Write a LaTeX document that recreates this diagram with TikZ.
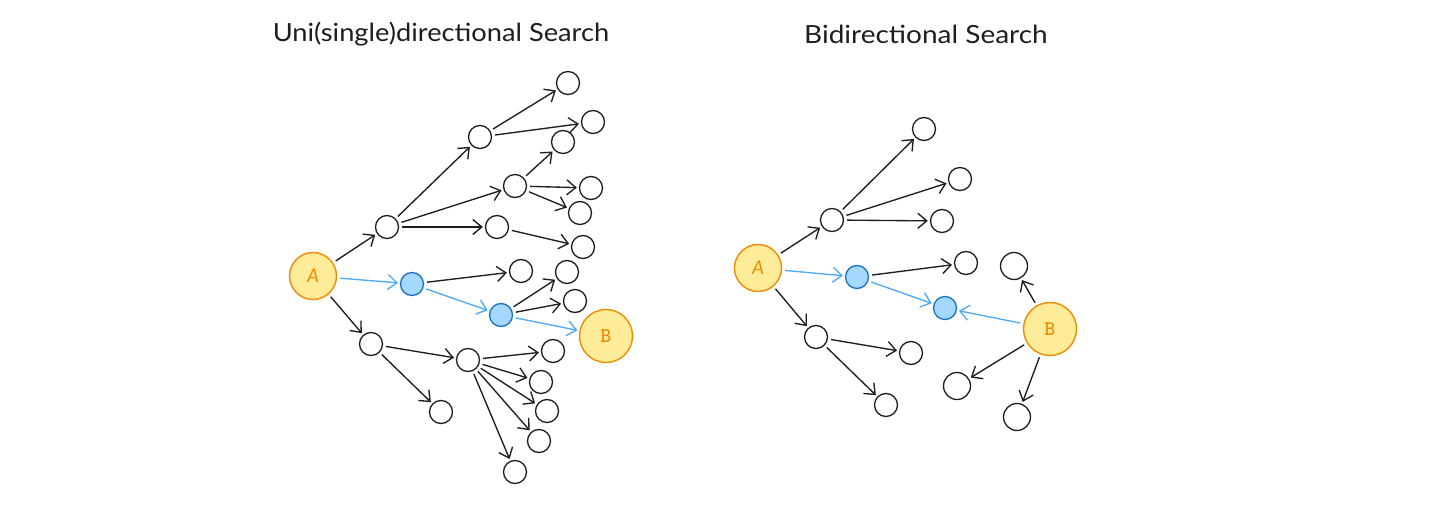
\documentclass[tikz,border=0pt]{standalone}
\usepackage{fontspec}
\setmainfont{Lato}
\usetikzlibrary{arrows.meta}
\definecolor{yfill}{HTML}{FFEC99}
\definecolor{ostroke}{HTML}{F08C00}
\definecolor{bfill}{HTML}{A5D8FF}
\definecolor{bstroke}{HTML}{1971C2}
\definecolor{barrow}{HTML}{4DABF7}
\definecolor{ink}{HTML}{1E1E1E}
\tikzset{
  leaf/.style={circle, draw=ink, fill=white, line width=1.3pt, minimum size=23pt, inner sep=0pt},
  bigleaf/.style={leaf, minimum size=27pt},
  endp/.style={circle, draw=ostroke, fill=yfill, line width=1.4pt, minimum size=47pt, inner sep=0pt, text=ostroke, font=\fontsize{19}{19}\selectfont\itshape},
  endb/.style={endp, minimum size=53pt, font=\fontsize{21}{21}\selectfont\ttfamily\bfseries},
  vis/.style={circle, draw=bstroke, fill=bfill, line width=1.3pt, minimum size=23pt, inner sep=0pt},
  edge/.style={draw=ink, line width=1.35pt, -{Straight Barb[length=9pt,width=15pt]}, shorten <=3pt, shorten >=2pt},
  bedge/.style={edge, draw=barrow},
  title/.style={font=\fontsize{25}{25}\selectfont, text=ink},
}
\begin{document}
\begin{tikzpicture}[x=1pt, y=-1pt]
\useasboundingbox (0,0) rectangle (1452,526);
\fill[white] (0,0) rectangle (1452,526);
% titles
\node[title] (t1) at (441,34) {\scalebox{1.09}[1]{Uni(single)directional Search}};
\node[title] (t2) at (926,34) {\scalebox{1.12}[1]{Bidirectional Search}};
% ---------- left ----------
\node[endp] (A) at (313,276) {A};
\node[leaf] (n1) at (387,227) {};
\node[leaf] (n2) at (480,137) {};
\node[leaf] (l1) at (568,83) {};
\node[leaf] (l2) at (593,122) {};
\node[leaf] (n3) at (515,186) {};
\node[leaf] (l3) at (563,142) {};
\node[leaf] (l4) at (591,188) {};
\node[leaf] (l5) at (580,213) {};
\node[leaf] (n4) at (497,227) {};
\node[leaf] (l6) at (583,247) {};
\node[vis] (v1) at (412,284) {};
\node[leaf] (l7) at (521,271) {};
\node[vis] (v2) at (501,315) {};
\node[leaf] (l8) at (567,272) {};
\node[leaf] (l9) at (575,301) {};
\node[endb] (B) at (606,336) {B};
\node[leaf] (n5) at (371,344) {};
\node[leaf] (l10) at (441,412) {};
\node[leaf] (n6) at (468,360) {};
\node[leaf] (l11) at (553,351) {};
\node[leaf] (l12) at (541,382) {};
\node[leaf] (l13) at (547,411) {};
\node[leaf] (l14) at (539,441) {};
\node[leaf] (l15) at (515,472) {};
\draw[edge] (A) -- (n1);
\draw[edge] (n1) -- (n2);
\draw[edge] (n1) -- (n3);
\draw[edge] (n1) -- (n4);
\draw[edge] (n2) -- (l1);
\draw[edge] (n2) -- (l2);
\draw[edge] (n3) -- (l3);
\draw[edge] (n3) -- (l4);
\draw[edge] (n3) -- (l5);
\draw[edge] (n4) -- (l6);
\draw[bedge] (A) -- (v1);
\draw[edge] (v1) -- (l7);
\draw[bedge] (v1) -- (v2);
\draw[edge] (v2) -- (l8);
\draw[edge] (v2) -- (l9);
\draw[bedge] (v2) -- (B);
\draw[edge] (A) -- (n5);
\draw[edge] (n5) -- (l10);
\draw[edge] (n5) -- (n6);
\draw[edge] (n6) -- (l11);
\draw[edge] (n6) -- (l12);
\draw[edge] (n6) -- (l13);
\draw[edge] (n6) -- (l14);
\draw[edge] (n6) -- (l15);
% ---------- right ----------
\node[endp] (A2) at (758,268) {A};
\node[leaf] (m1) at (832,220) {};
\node[leaf] (r1) at (924,129) {};
\node[leaf] (r2) at (960,179) {};
\node[leaf] (r3) at (942,221) {};
\node[vis] (w1) at (857,277) {};
\node[leaf] (r4) at (966,263) {};
\node[vis] (w2) at (945,308) {};
\node[endb] (B2) at (1050,329) {B};
\node[bigleaf] (r5) at (1014,266) {};
\node[bigleaf] (r6) at (957,386) {};
\node[bigleaf] (r7) at (1017,417) {};
\node[leaf] (m2) at (816,337) {};
\node[leaf] (r8) at (911,353) {};
\node[leaf] (r9) at (886,405) {};
\draw[edge] (A2) -- (m1);
\draw[edge] (m1) -- (r1);
\draw[edge] (m1) -- (r2);
\draw[edge] (m1) -- (r3);
\draw[bedge] (A2) -- (w1);
\draw[edge] (w1) -- (r4);
\draw[bedge] (w1) -- (w2);
\draw[bedge] (B2) -- (w2);
\draw[edge] (B2) -- (r5);
\draw[edge] (B2) -- (r6);
\draw[edge] (B2) -- (r7);
\draw[edge] (A2) -- (m2);
\draw[edge] (m2) -- (r8);
\draw[edge] (m2) -- (r9);
\end{tikzpicture}
\end{document}
